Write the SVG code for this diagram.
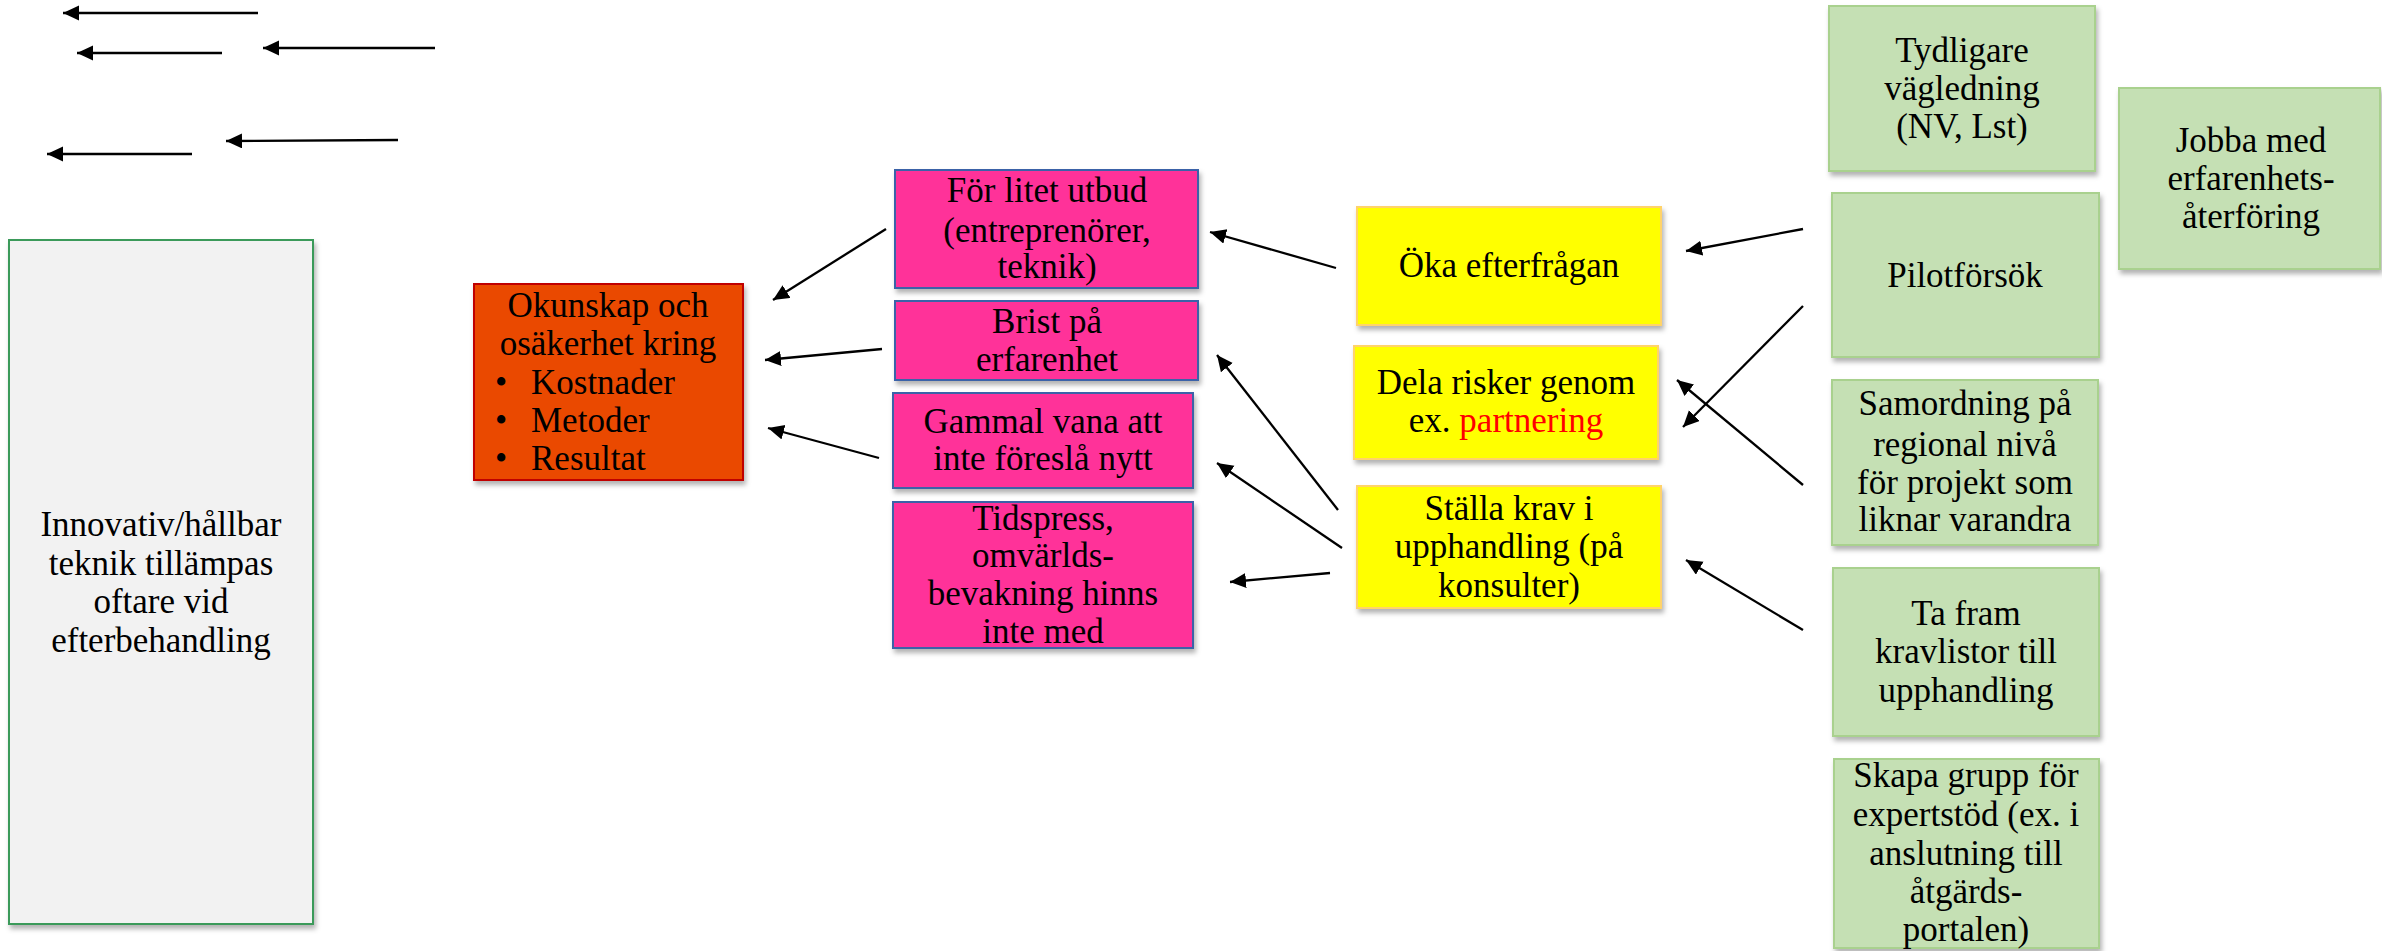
<svg xmlns="http://www.w3.org/2000/svg" width="2382" height="951" viewBox="0 0 2382 951">
<style>
  text { font-family: "Liberation Serif", "Times New Roman", serif; font-size: 35px; fill: #000; text-anchor: middle; }
  .grey { fill: #F2F2F2; stroke: #3A9A5A; stroke-width: 2; }
  .orange { fill: #EA4A05; stroke: #C00000; stroke-width: 2; }
  .pink { fill: #FF3399; stroke: #3A62A8; stroke-width: 2; }
  .yellow { fill: #FFFF00; stroke: #FFD36B; stroke-width: 2; }
  .green { fill: #C5E0B4; stroke: #A9D18E; stroke-width: 2; }
  .conn line { stroke: #000; stroke-width: 2.3; marker-end: url(#arr); }
  .red { fill: #FF0000; }
  .left { text-anchor: start; }
</style>
<defs>
  <marker id="arr" markerUnits="userSpaceOnUse" markerWidth="17" markerHeight="16" refX="16" refY="7.5" orient="auto">
    <path d="M0,0 L16,7.5 L0,15 Z" fill="#000"/>
  </marker>
  <filter id="sh" x="-10%" y="-10%" width="125%" height="125%">
    <feDropShadow dx="2" dy="4" stdDeviation="2.5" flood-color="#000" flood-opacity="0.3"/>
  </filter>
</defs>
<rect width="2382" height="951" fill="#FFFFFF"/>

<g id="connectors" class="conn">
  <line x1="258" y1="13" x2="63" y2="13"/>
  <line x1="222" y1="53" x2="77" y2="53"/>
  <line x1="435" y1="48" x2="263" y2="48"/>
  <line x1="398" y1="140" x2="226" y2="141"/>
  <line x1="192" y1="154" x2="47" y2="154"/>
  <line x1="886" y1="229" x2="773" y2="300"/>
  <line x1="882" y1="349" x2="765" y2="360"/>
  <line x1="879" y1="458" x2="768" y2="428"/>
  <line x1="1336" y1="268" x2="1210" y2="232"/>
  <line x1="1338" y1="510" x2="1217" y2="355"/>
  <line x1="1342" y1="548" x2="1217" y2="463"/>
  <line x1="1330" y1="573" x2="1230" y2="582"/>
  <line x1="1803" y1="229" x2="1686" y2="251"/>
  <line x1="1803" y1="306" x2="1683" y2="427"/>
  <line x1="1803" y1="485" x2="1677" y2="380"/>
  <line x1="1803" y1="630" x2="1686" y2="560"/>
</g>

<g id="node-innovativ">
  <rect class="grey" x="9" y="240" width="304" height="684" filter="url(#sh)"/>
  <text x="161" y="536">Innovativ/hållbar</text>
  <text x="161" y="575">teknik tillämpas</text>
  <text x="161" y="613">oftare vid</text>
  <text x="161" y="652">efterbehandling</text>
</g>

<g id="node-okunskap">
  <rect class="orange" x="474" y="284" width="269" height="196" filter="url(#sh)"/>
  <text x="608" y="317">Okunskap och</text>
  <text x="608" y="355">osäkerhet kring</text>
  <text class="left" x="495" y="394">•</text>
  <text class="left" x="531" y="394">Kostnader</text>
  <text class="left" x="495" y="432">•</text>
  <text class="left" x="531" y="432">Metoder</text>
  <text class="left" x="495" y="470">•</text>
  <text class="left" x="531" y="470">Resultat</text>
</g>

<g id="node-utbud">
  <rect class="pink" x="895" y="170" width="303" height="118" filter="url(#sh)"/>
  <text x="1047" y="202">För litet utbud</text>
  <text x="1047" y="242">(entreprenörer,</text>
  <text x="1047" y="278">teknik)</text>
</g>

<g id="node-brist">
  <rect class="pink" x="895" y="301" width="303" height="79" filter="url(#sh)"/>
  <text x="1047" y="333">Brist på</text>
  <text x="1047" y="371">erfarenhet</text>
</g>

<g id="node-gammal">
  <rect class="pink" x="893" y="393" width="300" height="95" filter="url(#sh)"/>
  <text x="1043" y="433">Gammal vana att</text>
  <text x="1043" y="470">inte föreslå nytt</text>
</g>

<g id="node-tidspress">
  <rect class="pink" x="893" y="502" width="300" height="146" filter="url(#sh)"/>
  <text x="1043" y="530">Tidspress,</text>
  <text x="1043" y="567">omvärlds-</text>
  <text x="1043" y="605">bevakning hinns</text>
  <text x="1043" y="643">inte med</text>
</g>

<g id="node-oka">
  <rect class="yellow" x="1357" y="207" width="304" height="118" filter="url(#sh)"/>
  <text x="1509" y="277">Öka efterfrågan</text>
</g>

<g id="node-dela">
  <rect class="yellow" x="1354" y="346" width="304" height="113" filter="url(#sh)"/>
  <text x="1506" y="394">Dela risker genom</text>
  <text x="1506" y="432">ex. <tspan class="red">partnering</tspan></text>
</g>

<g id="node-stalla">
  <rect class="yellow" x="1357" y="486" width="304" height="122" filter="url(#sh)"/>
  <text x="1509" y="520">Ställa krav i</text>
  <text x="1509" y="558">upphandling (på</text>
  <text x="1509" y="597">konsulter)</text>
</g>

<g id="node-tydligare">
  <rect class="green" x="1829" y="6" width="266" height="165" filter="url(#sh)"/>
  <text x="1962" y="62">Tydligare</text>
  <text x="1962" y="100">vägledning</text>
  <text x="1962" y="138">(NV, Lst)</text>
</g>

<g id="node-jobba">
  <rect class="green" x="2119" y="88" width="261" height="181" filter="url(#sh)"/>
  <text x="2251" y="152">Jobba med</text>
  <text x="2251" y="190">erfarenhets-</text>
  <text x="2251" y="228">återföring</text>
</g>

<g id="node-pilot">
  <rect class="green" x="1832" y="193" width="267" height="164" filter="url(#sh)"/>
  <text x="1965" y="287">Pilotförsök</text>
</g>

<g id="node-samordning">
  <rect class="green" x="1832" y="380" width="266" height="165" filter="url(#sh)"/>
  <text x="1965" y="415">Samordning på</text>
  <text x="1965" y="456">regional nivå</text>
  <text x="1965" y="494">för projekt som</text>
  <text x="1965" y="531">liknar varandra</text>
</g>

<g id="node-tafram">
  <rect class="green" x="1833" y="568" width="266" height="168" filter="url(#sh)"/>
  <text x="1966" y="625">Ta fram</text>
  <text x="1966" y="663">kravlistor till</text>
  <text x="1966" y="702">upphandling</text>
</g>

<g id="node-skapa">
  <rect class="green" x="1834" y="759" width="265" height="189" filter="url(#sh)"/>
  <text x="1966" y="787">Skapa grupp för</text>
  <text x="1966" y="826">expertstöd (ex. i</text>
  <text x="1966" y="865">anslutning till</text>
  <text x="1966" y="903">åtgärds-</text>
  <text x="1966" y="941">portalen)</text>
</g>
</svg>
